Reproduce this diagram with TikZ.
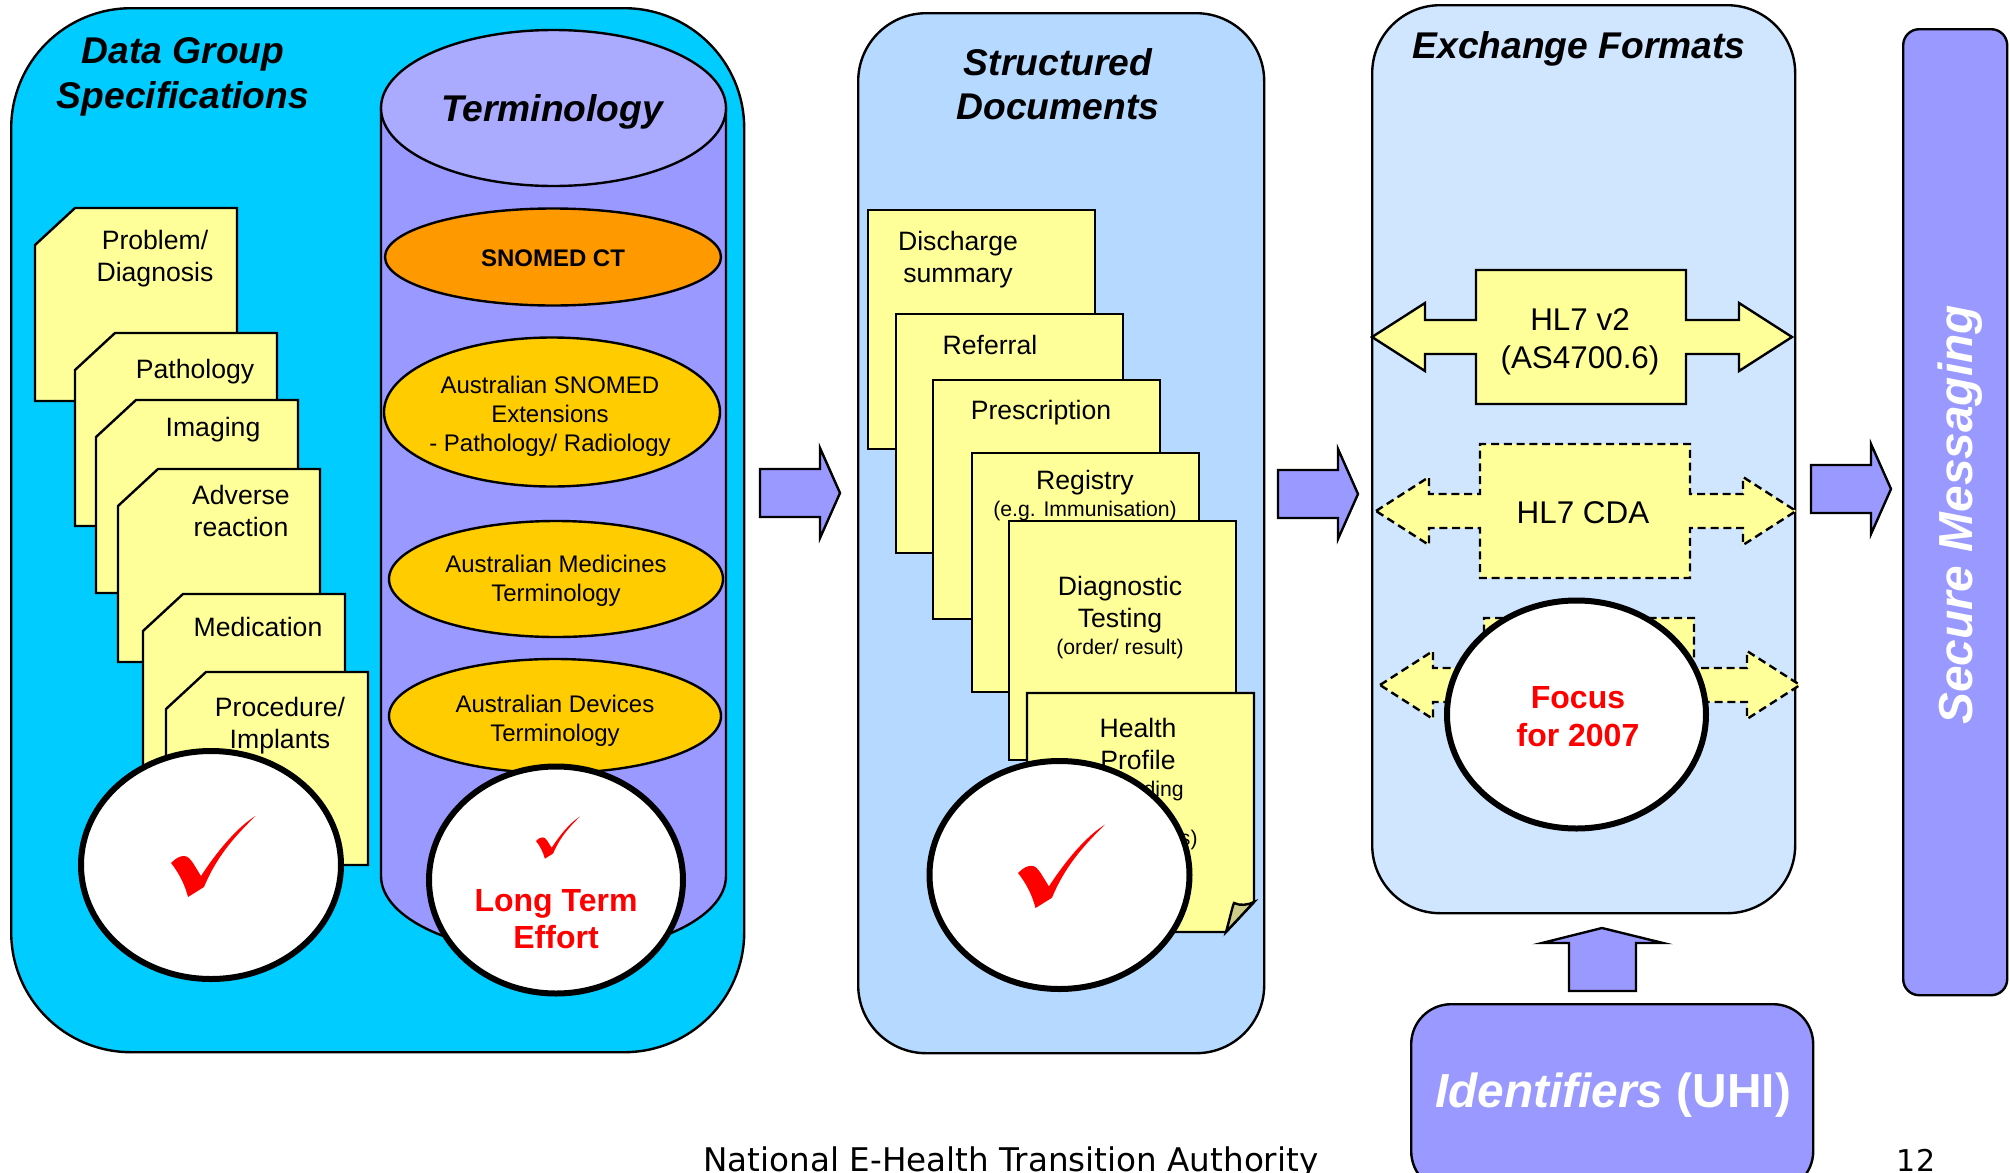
\documentclass[tikz,border=0pt]{standalone}
\usepackage{fontspec}
\setmainfont{Liberation Sans}
\newfontfamily\footfont{DejaVu Sans}
\usepackage{tikz}
\usetikzlibrary{shapes.geometric}
\definecolor{datablue}{HTML}{00CCFF}
\definecolor{docblue}{HTML}{B6DAFF}
\definecolor{formatblue}{HTML}{D0E6FF}
\definecolor{lilac}{HTML}{9999FF}
\definecolor{lilactop}{HTML}{AAAAFF}
\definecolor{paper}{HTML}{FFFF99}
\definecolor{foldtan}{HTML}{CCCC88}
\definecolor{snomedorange}{HTML}{FF9900}
\definecolor{termgold}{HTML}{FFCC00}
\tikzset{
	outline/.style={draw=black,line width=1.2pt},
	panel/.style={outline,anchor=north west,inner sep=0pt},
	pagefill/.style={outline,fill=paper},
	docpage/.style={pagefill,anchor=north west,inner sep=0pt,minimum width=113.5pt,minimum height=119.5pt},
	termoval/.style={outline,ellipse,inner sep=0pt,fill=termgold},
	termtext/.style={align=center,inner sep=0pt,font=\fontsize{12}{14.4}\selectfont},
	bigcircle/.style={draw=black,line width=3pt,ellipse,inner sep=0pt,fill=white},
	heading/.style={align=center,inner sep=0pt,font=\fontsize{18.6}{22.2}\selectfont\bfseries\itshape},
	pagetext/.style={align=center,inner sep=0pt,font=\fontsize{13.3}{16}\selectfont},
	smalltext/.style={align=center,inner sep=0pt,font=\fontsize{10.6}{13}\selectfont},
	hltext/.style={align=center,inner sep=0pt,font=\fontsize{15.7}{19}\selectfont},
	redtext/.style={inner sep=0pt,align=center,text=red,font=\fontsize{16}{18.8}\selectfont\bfseries},
	whitetext/.style={inner sep=0pt,text=white,font=\fontsize{23.9}{28}\selectfont\bfseries},
	dashedline/.style={dash pattern=on 4pt off 2.4pt},
	redtick/.pic={
		\fill[red] (0,0) .. controls (5,-5) and (9,-7) .. (13,-7) .. controls (17,-7) and (19,-4) .. (22,0) -- (30,13)
			.. controls (45,-10) and (65,-35) .. (84.5,-47) .. controls (62,-25) and (45,-5) .. (33,24) -- (17,34)
			.. controls (14,22) and (8,10) .. (0,0) -- cycle;
	},
}
% page with the upper left corner cut off
\newcommand{\snippage}[6]{
	\draw[pagefill] (#2+40,#3) -- (#2+202,#3) -- (#2+202,#3+193) -- (#2,#3+193) -- (#2,#3+37) -- cycle;
	\node[pagetext] (#1) at (#4,#5) {#6};
}
\newcommand{\blockarrow}[2]{
	\draw[outline,fill=lilac] (#1,#2-24) -- (#1+60,#2-24) -- (#1+60,#2-45) -- (#1+80,#2) -- (#1+60,#2+45) -- (#1+60,#2+24) -- (#1,#2+24) -- cycle;
}
\newcommand{\hlarrow}[3]{
	\draw[outline,fill=paper,#3] (#1,#2) -- (#1+53,#2-34) -- (#1+53,#2-17) -- (#1+104,#2-17) -- (#1+104,#2-67) -- (#1+314,#2-67) -- (#1+314,#2-17)
		-- (#1+367,#2-17) -- (#1+367,#2-34) -- (#1+420,#2) -- (#1+367,#2+34) -- (#1+367,#2+17) -- (#1+314,#2+17) -- (#1+314,#2+67)
		-- (#1+104,#2+67) -- (#1+104,#2+17) -- (#1+53,#2+17) -- (#1+53,#2+34) -- cycle;
}

\begin{document}
\begin{tikzpicture}[x=0.5pt,y=-0.5pt]
	\useasboundingbox (0,0) rectangle (2010,1173);

	% data group panel
	\node[panel,fill=datablue,rounded corners=60pt,minimum width=366.5pt,minimum height=522pt] (datagroup) at (10,7) {};
	\node[heading] (datatitle) at (183,77) {Data Group\\Specifications};

	\snippage{problem}{35}{208}{155}{259}{Problem/\\Diagnosis}
	\snippage{pathology}{75}{333}{195}{372}{Pathology}
	\snippage{imaging}{96}{400}{213}{430}{Imaging}
	\snippage{adverse}{118}{469}{241}{511}{Adverse\\reaction}
	\snippage{medication}{143}{594}{258}{627}{Medication}
	\snippage{procedure}{166}{672}{280}{726}{Procedure/\\Implants}

	% terminology drum
	\draw[outline,fill=lilac] (381,108) -- (381,876) arc[start angle=180,end angle=0,x radius=172.5,y radius=78] -- (726,108) -- cycle;
	\node[outline,ellipse,inner sep=0pt,fill=lilactop,minimum width=172.5pt,minimum height=78pt] (drumtop) at (553.5,108) {};
	\node[heading] (termtitle) at (552,112) {Terminology};

	\node[termoval,fill=snomedorange,minimum width=168pt,minimum height=48.5pt] (snomed) at (553,257) {};
	\node[termtext,font=\fontsize{12}{15}\selectfont\bfseries] (snomedtext) at (553,258) {SNOMED CT};
	\node[termoval,minimum width=168pt,minimum height=74.5pt] (extensions) at (552,412) {};
	\node[termtext] (extensionstext) at (550,416) {Australian SNOMED\\Extensions\\- Pathology/ Radiology};
	\node[termoval,minimum width=167pt,minimum height=58pt] (medicines) at (556,579) {};
	\node[termtext] (medicinestext) at (556,581) {Australian Medicines\\Terminology};
	\node[termoval,minimum width=166pt,minimum height=57pt] (devices) at (555,716) {};
	\node[termtext] (devicestext) at (555,721) {Australian Devices\\Terminology};

	\node[bigcircle,minimum width=130pt,minimum height=114pt] (datacheck) at (211,865) {};
	\pic (tickdata) at (171,863) {redtick};
	\node[bigcircle,minimum width=127pt,minimum height=113.5pt] (longterm) at (556,880) {};
	\pic[scale=.52] (tickterm) at (536,841) {redtick};
	\node[redtext] (longtext) at (556,919) {Long Term\\Effort};

	\blockarrow{760}{493}

	% structured documents panel
	\node[panel,fill=docblue,rounded corners=34pt,minimum width=203pt,minimum height=520pt] (structured) at (857,12) {};
	\node[heading] (structtitle) at (1058,84) {Structured\\Documents};

	\node[docpage] (discharge) at (867,209) {};
	\node[pagetext] (dischargetext) at (958,260) {Discharge\\summary};
	\node[docpage] (referral) at (895,313) {};
	\node[pagetext] (referraltext) at (990,345) {Referral};
	\node[docpage] (prescription) at (932,379) {};
	\node[pagetext] (prescriptiontext) at (1041,413) {Prescription};
	\node[docpage] (registry) at (971,452) {};
	\node[pagetext] (registrytext) at (1085,483) {Registry};
	\node[smalltext] (registrynote) at (1085,511) {(e.g. Immunisation)};
	\node[docpage] (diagnostic) at (1008,520) {};
	\node[pagetext] (diagnostictext) at (1120,605) {Diagnostic\\Testing};
	\node[smalltext] (diagnosticnote) at (1120,649) {(order/ result)};

	\draw[pagefill] (1027,693) -- (1254,693) -- (1254,902) -- (1226,932) -- (1027,932) -- cycle;
	\draw[outline,fill=foldtan] (1226,932) .. controls (1230,918) and (1232,908) .. (1234,903) .. controls (1240,906) and (1248,905) .. (1254,902) -- cycle;
	\node[pagetext] (healthtext) at (1138,744) {Health\\Profile};
	\node[smalltext,anchor=east] (healthnotea) at (1184,791) {ding};
	\node[smalltext,anchor=east] (healthnoteb) at (1198,840) {s)};

	\node[bigcircle,minimum width=130pt,minimum height=114pt] (doccheck) at (1059.5,875) {};
	\pic[scale=1.03] (tickdoc) at (1018,873) {redtick};

	\blockarrow{1278}{494}

	% exchange formats panel
	\node[panel,fill=formatblue,rounded corners=34pt,minimum width=211.5pt,minimum height=454pt] (exchange) at (1371,4) {};
	\node[heading] (exchangetitle) at (1579,49) {Exchange Formats};

	\hlarrow{1372}{337}{}
	\node[hltext] (hlvtwo) at (1580,342) {HL7 v2\\(AS4700.6)};
	\hlarrow{1376}{511}{dashedline}
	\node[hltext] (hlcda) at (1583,513) {HL7 CDA};
	\hlarrow{1380}{685}{dashedline}

	\node[bigcircle,minimum width=129.5pt,minimum height=114pt] (focus) at (1576.5,714.5) {};
	\node[redtext,font=\fontsize{16}{19}\selectfont\bfseries] (focustext) at (1578,717) {Focus\\for 2007};

	\blockarrow{1811}{489}

	% secure messaging bar
	\node[panel,fill=lilac,rounded corners=8pt,minimum width=52pt,minimum height=483pt] (messaging) at (1902,28) {};
	\node[whitetext,rotate=90] (messagingtext) at (1960,515) {\itshape Secure Messaging};

	% identifiers box
	\draw[outline,fill=lilac] (1569,991) -- (1569,943) -- (1542,943) -- (1602,928) -- (1663,943) -- (1636,943) -- (1636,991) -- cycle;
	\node[panel,fill=lilac,rounded corners=20pt,minimum width=201pt,minimum height=93.5pt] (identifiers) at (1410,1003) {};
	\node[whitetext] (identifierstext) at (1613,1095) {\textit{Identifiers} (UHI)};

	% footer
	\node[anchor=base,inner sep=0pt,font=\footfont\fontsize{16.3}{19}\selectfont] (footer) at (1011,1171) {National E-Health Transition Authority};
	\node[anchor=base,inner sep=0pt,font=\footfont\fontsize{15}{18}\selectfont] (pagenum) at (1916,1171) {12};
\end{tikzpicture}
\end{document}
